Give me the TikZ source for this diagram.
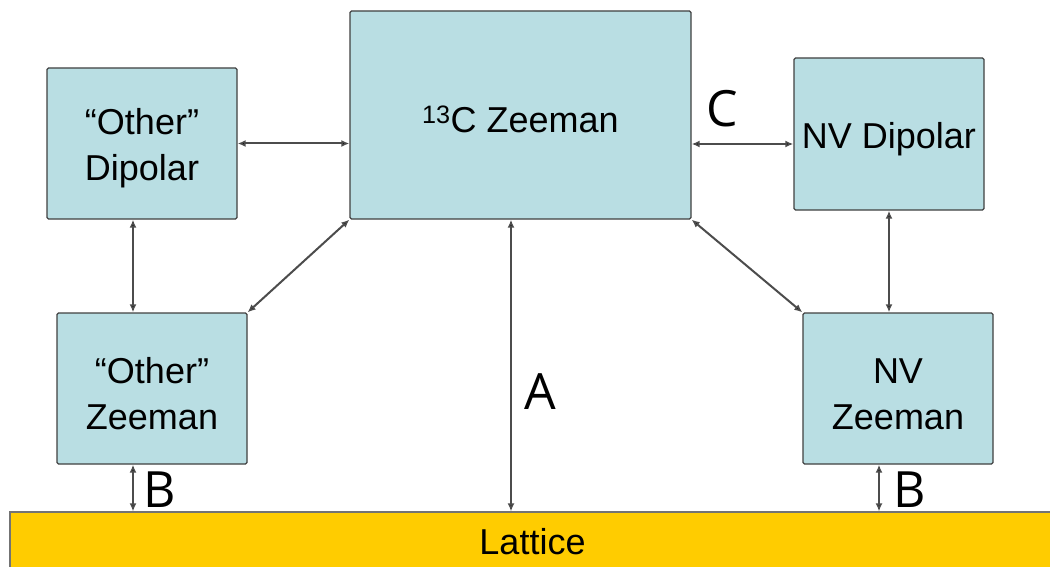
\documentclass[tikz,border=0pt]{standalone}
\usepackage{fontspec}
\setmainfont{Liberation Sans}
\newfontfamily\labfont{Open Sans}
\usetikzlibrary{arrows.meta}
\definecolor{boxcyan}{HTML}{B9DEE3}
\definecolor{latyellow}{HTML}{FFCC00}
\newcommand{\tallstrut}{\rule{0pt}{36pt}}
\begin{document}
\begin{tikzpicture}[x=1pt, y=-1pt, >={Latex[length=8pt,width=7pt,fill=black]},
	box/.style={draw=black!75, line width=1.3pt, fill=boxcyan, rounded corners=1.5pt,
		minimum width=190pt, minimum height=151pt, inner sep=0pt, align=center,
		font=\fontsize{36}{46}\selectfont},
	link/.style={<->, draw=black!70, line width=2pt},
	lab/.style={font=\labfont\fontsize{50}{50}\selectfont, inner sep=0pt}]
	
	\useasboundingbox (0,0) rectangle (1050,567);
	
	% --- 1. Boxes ---
	\node[box] (od) at (142,143.5) {\tallstrut“Other”\\Dipolar};
	\node[box, minimum width=341pt, minimum height=208pt] (cz) at (520.5,115) {\tallstrut\textsuperscript{13}C Zeeman};
	\node[box, minimum height=152pt] (nvd) at (889,134) {\tallstrut NV Dipolar};
	\node[box] (oz) at (152,388.5) {\tallstrut“Other”\\Zeeman};
	\node[box] (nvz) at (898,388.5) {\tallstrut NV\\Zeeman};
	
	% Lattice strip
	\node[draw=black!55, line width=1.2pt, fill=latyellow, minimum width=1045pt, minimum height=60pt,
		inner sep=0pt, font=\fontsize{36}{46}\selectfont] (lat) at (532.5,542) {Lattice};
	
	% --- 2. Couplings ---
	\draw[link] (od.east) -- (od.east -| cz.west);
	\draw[link] ([yshift=-10pt]nvd.west) -- ([yshift=-10pt]nvd.west -| cz.east);
	\draw[link] ([xshift=-9pt]od.south) -- ([xshift=-9pt]od.south |- oz.north);
	\draw[link] (nvd.south) -- (nvd.south |- nvz.north);
	\draw[link] (cz.south west) -- (oz.north east);
	\draw[link] (cz.south east) -- (nvz.north west);
	
	% to the lattice
	\draw[link] ([xshift=-9.5pt]cz.south) -- ([xshift=-9.5pt]cz.south |- lat.north);
	\draw[link] ([xshift=-19pt]oz.south) -- ([xshift=-19pt]oz.south |- lat.north);
	\draw[link] ([xshift=-19pt]nvz.south) -- ([xshift=-19pt]nvz.south |- lat.north);
	
	% --- 3. Labels ---
	\node[lab] (labA) at (540,392) {A};
	\node[lab] (labB1) at (160,490) {B};
	\node[lab] (labB2) at (910,490) {B};
	\node[lab] (labC) at (722,109) {C};
	
\end{tikzpicture}
\end{document}
